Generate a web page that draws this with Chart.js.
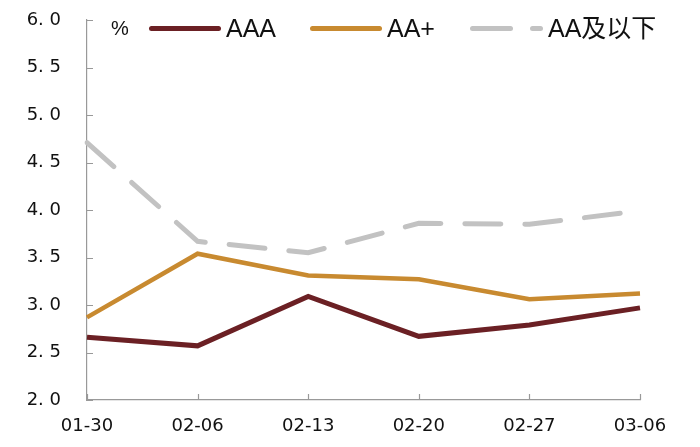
<!DOCTYPE html>
<html>
<head>
<meta charset="utf-8">
<script src="https://cdn.jsdelivr.net/npm/chart.js@4"></script>
<style>
  html, body { margin: 0; padding: 0; background: #fff; }
  #wrap { position: relative; width: 700px; height: 447px; }
  #legend { position: absolute; left: 0; top: 0; width: 700px; height: 60px; pointer-events: none;
    font-family: "Liberation Sans", "Noto Sans CJK SC", sans-serif; font-size: 25px; color: #111; }
  #legend span { position: absolute; top: 13px; line-height: 30px; white-space: nowrap; }
  #legend i { position: absolute; top: 26px; height: 5px; border-radius: 3px; }
</style>
</head>
<body>
<div id="wrap">
  <canvas id="chart" width="700" height="447"></canvas>
  <div id="legend">
    <span style="left:111px;font-size:20px;">%</span>
    <i style="left:149px;width:72px;background:#6b2024;"></i>
    <span style="left:226px;">AAA</span>
    <i style="left:310px;width:72px;background:#c88a30;height:4.5px;"></i>
    <span style="left:387px;">AA+</span>
    <i style="left:470px;width:43px;background:#c2c2c2;"></i>
    <i style="left:530px;width:13px;background:#c2c2c2;"></i>
    <span style="left:548px;">AA及以下</span>
  </div>
</div>
<script>
const dates = ["01-30", "02-06", "02-13", "02-20", "02-27", "03-06"];
const aaa = [2.66, 2.57, 3.09, 2.67, 2.79, 2.97];
const aaPlus = [2.87, 3.54, 3.31, 3.27, 3.06, 3.12];
const aaBelow = [4.71, 3.67, 3.55, 3.86, 3.85, 3.99];
const yTicks = [2.0, 2.5, 3.0, 3.5, 4.0, 4.5, 5.0, 5.5, 6.0];

const tickFont = { family: "'DejaVu Sans', sans-serif", size: 18 };

// ticks point inward, so draw them ourselves
const innerTicks = {
  id: "innerTicks",
  afterDraw(chart) {
    const ctx = chart.ctx;
    const x = chart.scales.x, y = chart.scales.y;
    ctx.save();
    ctx.strokeStyle = "#999";
    ctx.lineWidth = 1.2;
    ctx.beginPath();
    y.ticks.forEach((t, i) => {
      const py = Math.round(y.getPixelForTick(i)) + 0.5;
      ctx.moveTo(x.left, py);
      ctx.lineTo(x.left + 6, py);
    });
    x.ticks.forEach((t, i) => {
      const px = Math.round(x.getPixelForTick(i)) + 0.5;
      ctx.moveTo(px, y.bottom);
      ctx.lineTo(px, y.bottom - 6);
    });
    ctx.stroke();
    ctx.restore();
  }
};

new Chart(document.getElementById("chart"), {
  type: "line",
  data: {
    labels: dates,
    datasets: [
      { label: "AAA", data: aaa, borderColor: "#6b2024", borderWidth: 5, pointRadius: 0, tension: 0 },
      { label: "AA+", data: aaPlus, borderColor: "#c88a30", borderWidth: 4.5, pointRadius: 0, tension: 0 },
      { label: "AA及以下", data: aaBelow, borderColor: "#c2c2c2", borderWidth: 5, pointRadius: 0, tension: 0,
        borderDash: [36, 24], borderCapStyle: "round" }
    ]
  },
  options: {
    responsive: false,
    animation: false,
    layout: { padding: { top: 20, right: 60, left: 0, bottom: 0 } },
    plugins: { legend: { display: false }, tooltip: { enabled: false } },
    scales: {
      x: {
        offset: false,
        grid: { display: false, drawTicks: true, tickLength: 12, tickColor: "transparent" },
        border: { color: "#999", width: 1.2 },
        ticks: { color: "#111", font: tickFont, padding: 4, maxRotation: 0, autoSkip: false },
        afterFit(scale) { scale.height = 47; scale.paddingLeft = 0; scale.paddingRight = 0; }
      },
      y: {
        min: 2, max: 6,
        afterBuildTicks(scale) { scale.ticks = yTicks.map(v => ({ value: v })); },
        grid: { display: false, drawTicks: true, tickLength: 22, tickColor: "transparent" },
        border: { color: "#999", width: 1.2 },
        ticks: {
          color: "#111", font: tickFont, padding: 4,
          callback: v => v.toFixed(1).replace(".", ". ")
        },
        afterFit(scale) { scale.width = 87; scale.paddingTop = 0; scale.paddingBottom = 0; }
      }
    }
  },
  plugins: [innerTicks]
});
</script>
</body>
</html>
